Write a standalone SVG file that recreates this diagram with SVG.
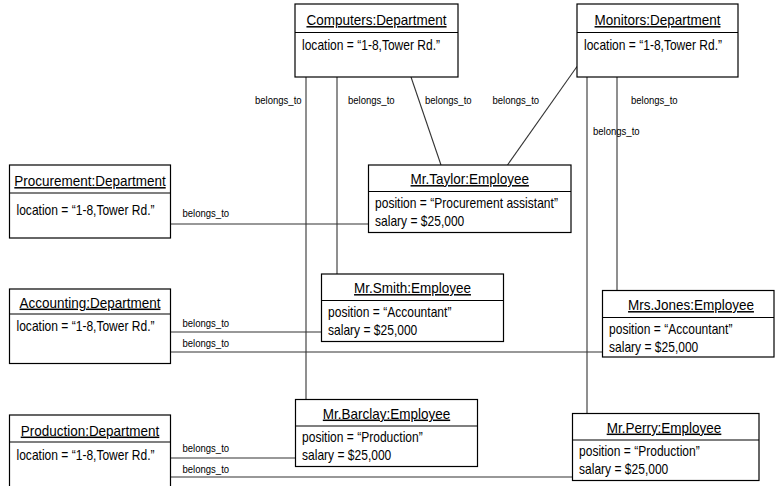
<svg xmlns="http://www.w3.org/2000/svg" width="775" height="486" viewBox="0 0 775 486">
<style>
  text { font-family: "Liberation Sans", Arial, sans-serif; fill: #000; font-weight: normal; }
  .box { fill: #fff; stroke: #000; stroke-width: 1.2; }
  .div { stroke: #000; stroke-width: 1.2; }
  .title { font-size: 15px; text-anchor: middle; text-decoration: underline; }
  .attr { font-size: 14px; }
  .lbl { font-size: 11.5px; }
  .conn { stroke: #333; stroke-width: 1.1; fill: none; }
</style>
<rect width="775" height="486" fill="#fff"/>

<g id="connectors">
  <line class="conn" x1="306" y1="77" x2="306" y2="399.5"/>
  <line class="conn" x1="337" y1="77" x2="337" y2="274"/>
  <line class="conn" x1="411" y1="77" x2="441" y2="165"/>
  <line class="conn" x1="577" y1="66.5" x2="507.5" y2="165"/>
  <line class="conn" x1="617" y1="77" x2="617" y2="290.5"/>
  <line class="conn" x1="587" y1="77" x2="587" y2="413.5"/>
  <line class="conn" x1="170.5" y1="224" x2="368.5" y2="224"/>
  <line class="conn" x1="170.5" y1="332" x2="321.5" y2="332"/>
  <line class="conn" x1="170.5" y1="352" x2="602.5" y2="352"/>
  <line class="conn" x1="170.5" y1="458" x2="295.5" y2="458"/>
  <line class="conn" x1="170.5" y1="477" x2="572.5" y2="477"/>
  <text class="lbl" transform="translate(255,103.5) scale(0.83,1)">belongs_to</text>
  <text class="lbl" transform="translate(348,103.5) scale(0.83,1)">belongs_to</text>
  <text class="lbl" transform="translate(425,103.5) scale(0.83,1)">belongs_to</text>
  <text class="lbl" transform="translate(492.5,103.5) scale(0.83,1)">belongs_to</text>
  <text class="lbl" transform="translate(631,103.5) scale(0.83,1)">belongs_to</text>
  <text class="lbl" transform="translate(593,134.5) scale(0.83,1)">belongs_to</text>
  <text class="lbl" transform="translate(182.5,216.5) scale(0.83,1)">belongs_to</text>
  <text class="lbl" transform="translate(182.5,327) scale(0.83,1)">belongs_to</text>
  <text class="lbl" transform="translate(182.5,347) scale(0.83,1)">belongs_to</text>
  <text class="lbl" transform="translate(182.5,452) scale(0.83,1)">belongs_to</text>
  <text class="lbl" transform="translate(182.5,472.5) scale(0.83,1)">belongs_to</text>
</g>

<g id="computers">
  <rect class="box" x="295" y="4" width="163" height="73"/>
  <line class="div" x1="295" y1="32.5" x2="458" y2="32.5"/>
  <text class="title" transform="translate(376.5,25) scale(0.9,1)">Computers:Department</text>
  <text class="attr" transform="translate(302,50) scale(0.86,1)">location = “1-8,Tower Rd.”</text>
</g>

<g id="monitors">
  <rect class="box" x="577" y="4" width="161" height="73"/>
  <line class="div" x1="577" y1="32.5" x2="738" y2="32.5"/>
  <text class="title" transform="translate(657.5,25) scale(0.9,1)">Monitors:Department</text>
  <text class="attr" transform="translate(584,50) scale(0.86,1)">location = “1-8,Tower Rd.”</text>
</g>

<g id="procurement">
  <rect class="box" x="9.5" y="165" width="161" height="73"/>
  <line class="div" x1="9.5" y1="193" x2="170.5" y2="193"/>
  <text class="title" transform="translate(90,186) scale(0.9,1)">Procurement:Department</text>
  <text class="attr" transform="translate(16.5,215) scale(0.86,1)">location = “1-8,Tower Rd.”</text>
</g>

<g id="accounting">
  <rect class="box" x="9.5" y="289" width="161" height="74.5"/>
  <line class="div" x1="9.5" y1="314" x2="170.5" y2="314"/>
  <text class="title" transform="translate(90,307.5) scale(0.9,1)">Accounting:Department</text>
  <text class="attr" transform="translate(16.5,331) scale(0.86,1)">location = “1-8,Tower Rd.”</text>
</g>

<g id="production">
  <rect class="box" x="9.5" y="415" width="161" height="80"/>
  <line class="div" x1="9.5" y1="442" x2="170.5" y2="442"/>
  <text class="title" transform="translate(90,435.5) scale(0.9,1)">Production:Department</text>
  <text class="attr" transform="translate(16.5,460) scale(0.86,1)">location = “1-8,Tower Rd.”</text>
</g>

<g id="taylor">
  <rect class="box" x="368.5" y="165" width="202.5" height="67.5"/>
  <line class="div" x1="368.5" y1="191.5" x2="571" y2="191.5"/>
  <text class="title" transform="translate(469.75,184) scale(0.9,1)">Mr.Taylor:Employee</text>
  <text class="attr" transform="translate(375,208) scale(0.86,1)">position = “Procurement assistant”</text>
  <text class="attr" transform="translate(375,226) scale(0.86,1)">salary = $25,000</text>
</g>

<g id="smith">
  <rect class="box" x="321.5" y="274" width="182" height="67.5"/>
  <line class="div" x1="321.5" y1="300.5" x2="503.5" y2="300.5"/>
  <text class="title" transform="translate(412.5,293) scale(0.9,1)">Mr.Smith:Employee</text>
  <text class="attr" transform="translate(328,317) scale(0.86,1)">position = “Accountant”</text>
  <text class="attr" transform="translate(328,335) scale(0.86,1)">salary = $25,000</text>
</g>

<g id="jones">
  <rect class="box" x="602.5" y="290.5" width="171.5" height="66.5"/>
  <line class="div" x1="602.5" y1="317.5" x2="774" y2="317.5"/>
  <text class="title" transform="translate(691,310) scale(0.9,1)">Mrs.Jones:Employee</text>
  <text class="attr" transform="translate(609,334) scale(0.86,1)">position = “Accountant”</text>
  <text class="attr" transform="translate(609,351.5) scale(0.86,1)">salary = $25,000</text>
</g>

<g id="barclay">
  <rect class="box" x="295.5" y="399.5" width="182" height="67"/>
  <line class="div" x1="295.5" y1="426" x2="477.5" y2="426"/>
  <text class="title" transform="translate(386.5,418.5) scale(0.9,1)">Mr.Barclay:Employee</text>
  <text class="attr" transform="translate(302,442) scale(0.86,1)">position = “Production”</text>
  <text class="attr" transform="translate(302,460) scale(0.86,1)">salary = $25,000</text>
</g>

<g id="perry">
  <rect class="box" x="572.5" y="413.5" width="186.5" height="67"/>
  <line class="div" x1="572.5" y1="440" x2="759" y2="440"/>
  <text class="title" transform="translate(664,432.5) scale(0.9,1)">Mr.Perry:Employee</text>
  <text class="attr" transform="translate(579,456) scale(0.86,1)">position = “Production”</text>
  <text class="attr" transform="translate(579,474) scale(0.86,1)">salary = $25,000</text>
</g>
</svg>
